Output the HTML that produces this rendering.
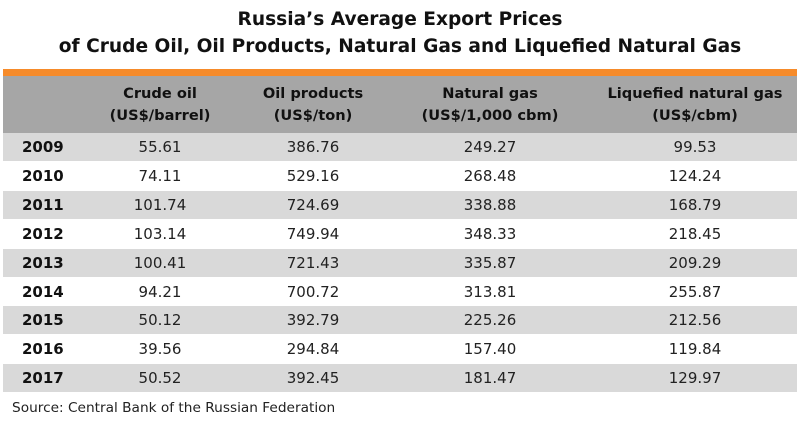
<!DOCTYPE html>
<html><head><meta charset="utf-8"><style>
body{margin:0;width:800px;height:426px;background:#fff;font-family:"DejaVu Sans","Liberation Sans",sans-serif;position:relative;overflow:hidden}
.t{position:absolute;left:0;width:800px;text-align:center;font-weight:bold;font-size:18.6px;color:#111}
#bar{position:absolute;left:3px;top:69px;width:794px;height:7px;background:#f68b2a}
#hdr{position:absolute;left:3px;top:76px;width:794px;height:57px;background:#a6a6a6}
.h{position:absolute;top:83px;font-weight:bold;font-size:14.6px;line-height:22px;text-align:center;color:#111;transform:translateX(-50%);white-space:nowrap}
.row{position:absolute;left:3px;width:794px;height:28px}
.c{position:absolute;top:0;line-height:28px;font-size:15px;color:#222;transform:translateX(-50%)}
.y{position:absolute;line-height:28px;font-size:15px;font-weight:bold;color:#111}
#src{position:absolute;left:12px;top:400px;font-size:13.7px;color:#222}
</style></head><body>
<div class="t" style="top:9px">Russia’s Average Export Prices</div>
<div class="t" style="top:36px">of Crude Oil, Oil Products, Natural Gas and Liquefied Natural Gas</div>
<div id="bar"></div>
<div id="hdr"></div>
<div class="h" style="left:160px">Crude oil<br>(US$/barrel)</div>
<div class="h" style="left:313px">Oil products<br>(US$/ton)</div>
<div class="h" style="left:490px">Natural gas<br>(US$/1,000 cbm)</div>
<div class="h" style="left:695px">Liquefied natural gas<br>(US$/cbm)</div>
<div id="rows"></div>
<div id="src">Source: Central Bank of the Russian Federation</div>
<script>
const years=["2009","2010","2011","2012","2013","2014","2015","2016","2017"];
const crude=["55.61","74.11","101.74","103.14","100.41","94.21","50.12","39.56","50.52"];
const oilProducts=["386.76","529.16","724.69","749.94","721.43","700.72","392.79","294.84","392.45"];
const natGas=["249.27","268.48","338.88","348.33","335.87","313.81","225.26","157.40","181.47"];
const lng=["99.53","124.24","168.79","218.45","209.29","255.87","212.56","119.84","129.97"];
const cols=[crude,oilProducts,natGas,lng];
const centers=[157,310,487,692];
const host=document.getElementById('rows');
years.forEach((y,i)=>{
  const r=document.createElement('div');
  r.className='row';
  
  
  r.style.top=(133+i*28.9)+'px';
  r.style.background=i%2===0?'#d9d9d9':'#fff';
  const yl=document.createElement('div');
  yl.className='y';
  
  
  yl.style.left='19px';
  yl.textContent=y;
  r.appendChild(yl);
  cols.forEach((c,j)=>{
    const d=document.createElement('div');
    d.className='c';
    
    
    d.style.left=centers[j]+'px';
    d.textContent=c[i];
    r.appendChild(d);
  });
  host.appendChild(r);
});
</script>
</body></html>
